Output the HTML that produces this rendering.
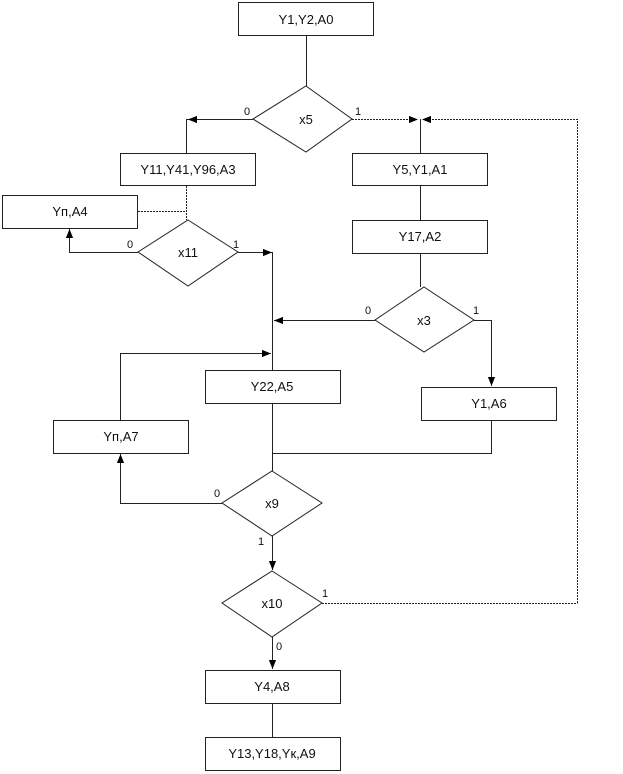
<!DOCTYPE html>
<html><head><meta charset="utf-8"><style>
html,body{margin:0;padding:0;background:#fff;}
svg{display:block;}
text{font-family:"Liberation Sans",Arial,sans-serif;font-size:13px;fill:#111;}
</style></head><body>
<svg width="623" height="774" viewBox="0 0 623 774" xmlns="http://www.w3.org/2000/svg">
<defs>
<marker id="a" viewBox="0 0 10 10" refX="10" refY="5" markerWidth="9" markerHeight="9" orient="auto-start-reverse" markerUnits="userSpaceOnUse"><path d="M0,1 L10,5 L0,9 z" fill="#000"/></marker>
</defs>
<g fill="#fff" stroke="#222" stroke-width="1">
<rect x="238.5" y="2.5" width="135" height="33"/>
<rect x="120.5" y="153.5" width="135" height="32"/>
<rect x="2.5" y="195.5" width="135" height="33"/>
<rect x="352.5" y="153.5" width="135" height="32"/>
<rect x="352.5" y="220.5" width="135" height="33"/>
<rect x="205.5" y="370.5" width="135" height="33"/>
<rect x="421.5" y="387.5" width="135" height="33"/>
<rect x="53.5" y="420.5" width="135" height="33"/>
<rect x="205.5" y="670.5" width="135" height="33"/>
<rect x="205.5" y="737.5" width="135" height="33"/>
<polygon points="306,86 352,119 306,152 253,119"/>
<polygon points="188,220 238,252 188,286 138,252"/>
<polygon points="424,287 474,320 424,352 375,320"/>
<polygon points="272,471 322,503 272,536 222,503"/>
<polygon points="272,571 322,603 272,637 222,603"/>
</g>
<g fill="none" stroke="#222" stroke-width="1">
<path d="M306.5,35 V86"/>
<path d="M253,119.5 H186.5 V153" marker-start="none"/>
<path d="M253,119.5 H188" marker-end="url(#a)"/>
<path d="M352,119.5 H418" stroke-dasharray="2,1" marker-end="url(#a)"/>
<path d="M577.5,603 V119.5 H422" stroke-dasharray="2,1" marker-end="url(#a)"/>
<path d="M322,603.5 H577.5" stroke-dasharray="2,1"/>
<path d="M420.5,119 V153"/>
<path d="M420.5,186 V220"/>
<path d="M420.5,254 V287"/>
<path d="M186.5,186 V220" stroke-dasharray="2,1"/>
<path d="M138,211.5 H186" stroke-dasharray="2,1"/>
<path d="M138,252.5 H69.5 V229" marker-end="url(#a)"/>
<path d="M238,252.5 H272" marker-end="url(#a)"/>
<path d="M272.5,252 V370"/>
<path d="M375,320.5 H274" marker-end="url(#a)"/>
<path d="M474,320.5 H491.5 V386" marker-end="url(#a)"/>
<path d="M120.5,420 V353.5 H271" marker-end="url(#a)"/>
<path d="M272.5,404 V471"/>
<path d="M272,453.5 H491.5 V421"/>
<path d="M222,503.5 H120.5 V454" marker-end="url(#a)"/>
<path d="M272.5,536 V570" marker-end="url(#a)"/>
<path d="M272.5,637 V669" marker-end="url(#a)"/>
<path d="M272.5,704 V737"/>
</g>
<g text-anchor="middle">
<text x="306" y="24">Y1,Y2,A0</text>
<text x="306" y="124">x5</text>
<text x="188" y="174">Y11,Y41,Y96,A3</text>
<text x="70" y="216">Yп,A4</text>
<text x="420" y="174">Y5,Y1,A1</text>
<text x="420" y="241">Y17,A2</text>
<text x="188" y="257">x11</text>
<text x="424" y="325">x3</text>
<text x="272" y="391">Y22,A5</text>
<text x="489" y="408">Y1,A6</text>
<text x="121" y="441">Yп,A7</text>
<text x="272" y="508">x9</text>
<text x="272" y="608">x10</text>
<text x="272" y="691">Y4,A8</text>
<text x="272" y="758">Y13,Y18,Yк,A9</text>
</g>
<g font-size="11">
<text x="244" y="115" style="font-size:11px">0</text>
<text x="355" y="115" style="font-size:11px">1</text>
<text x="127" y="248" style="font-size:11px">0</text>
<text x="233" y="248" style="font-size:11px">1</text>
<text x="365" y="314" style="font-size:11px">0</text>
<text x="473" y="314" style="font-size:11px">1</text>
<text x="214" y="497" style="font-size:11px">0</text>
<text x="258" y="545" style="font-size:11px">1</text>
<text x="322" y="597" style="font-size:11px">1</text>
<text x="276" y="650" style="font-size:11px">0</text>
</g>
</svg>
</body></html>
